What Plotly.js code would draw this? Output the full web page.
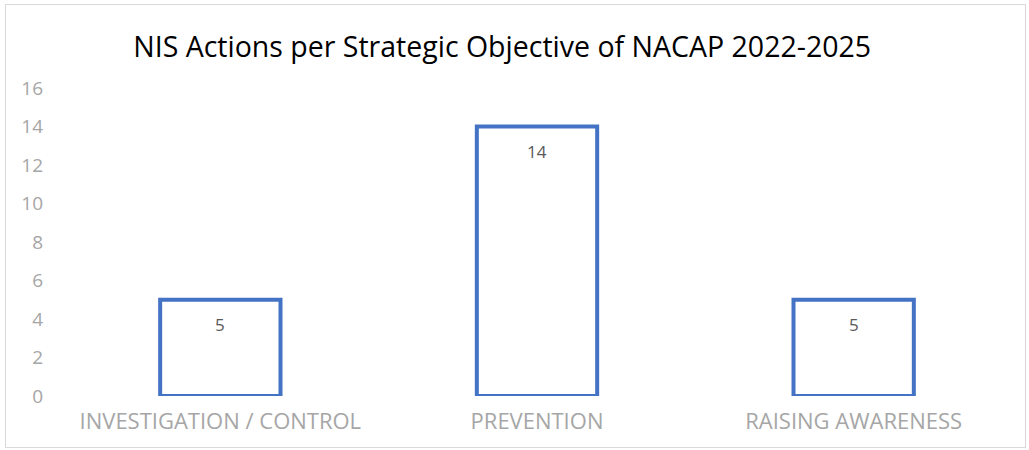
<!DOCTYPE html>
<html>
<head>
<meta charset="utf-8">
<script src="https://cdn.plot.ly/plotly-3.0.1.min.js"></script>
<style>
html,body{margin:0;padding:0;background:#fff;}
#wrap{position:relative;width:1029px;height:450px;}
#chart{width:1029px;height:450px;}
#frame{position:absolute;left:5px;top:4px;width:1019px;height:442px;border:1px solid #d9d9d9;pointer-events:none;}
</style>
</head>
<body>
<div id="wrap"><div id="chart"></div><div id="frame"></div></div>
<script>
const categories = ["INVESTIGATION / CONTROL", "PREVENTION", "RAISING AWARENESS"];
const actions = [5, 14, 5];
const yTicks = [0, 2, 4, 6, 8, 10, 12, 14, 16];
const chartTitle = "NIS Actions per Strategic Objective of NACAP 2022-2025";

const trace = {
  type: "bar",
  x: categories,
  y: actions,
  width: 0.38,
  marker: {color: "#ffffff", line: {color: "#4472C4", width: 4}},
  hoverinfo: "x+y"
};

const annotations = categories.map((c, i) => ({
  x: c, y: actions[i], xref: "x", yref: "y",
  text: String(actions[i]), showarrow: false,
  yshift: -25, font: {family: "Open Sans, sans-serif", size: 17, color: "#595959"}
}));

const layout = {
  width: 1029, height: 450,
  margin: {l: 62, r: 17, t: 88, b: 54},
  paper_bgcolor: "#ffffff", plot_bgcolor: "#ffffff",
  showlegend: false,
  title: {text: chartTitle, x: 0.488, xanchor: "center", y: 0.895, yanchor: "middle",
          font: {family: "Open Sans, sans-serif", size: 28.5, color: "#000000"}},
  xaxis: {type: "category", showgrid: false, zeroline: false, showline: false, ticks: "",
          ticklabelstandoff: 10,
          tickfont: {family: "Open Sans, sans-serif", size: 22, color: "#a6a6a6"}},
  yaxis: {range: [0, 16], tickvals: yTicks, ticktext: yTicks.map(String), showgrid: false,
          zeroline: false, showline: false, ticks: "", ticklabelstandoff: 18,
          tickfont: {family: "Open Sans, sans-serif", size: 19, color: "#a6a6a6"}},
  annotations: annotations
};

Plotly.newPlot("chart", [trace], layout, {displayModeBar: false, responsive: false});
</script>
</body>
</html>
